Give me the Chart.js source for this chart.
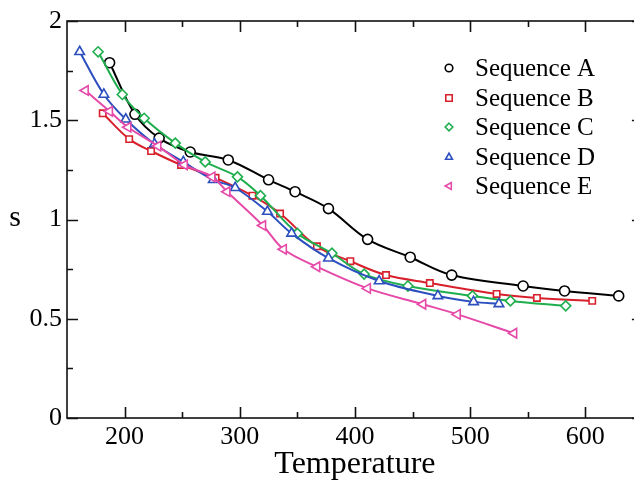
<!DOCTYPE html>
<html>
<head>
<meta charset="utf-8">
<script src="https://cdn.jsdelivr.net/npm/chart.js@4/dist/chart.umd.min.js"></script>
<style>
  html, body { margin: 0; padding: 0; background: #fff; overflow: hidden; }
  #wrap { width: 650px; height: 481px; }
</style>
</head>
<body>
<div id="wrap"><canvas id="c" width="650" height="481"></canvas></div>
<script>
// ---- data ----
const seriesNames = ['Sequence A', 'Sequence B', 'Sequence C', 'Sequence D', 'Sequence E'];

const tempA = [187, 209, 230, 257, 290, 325, 348, 377, 411, 448, 484, 546, 582, 629];
const sA    = [1.79, 1.53, 1.41, 1.34, 1.30, 1.20, 1.14, 1.055, 0.90, 0.81, 0.72, 0.665, 0.64, 0.615];

const tempB = [181, 204, 223, 249, 279, 311, 335, 367, 396, 427, 465, 523, 558, 606];
const sB    = [1.535, 1.405, 1.345, 1.275, 1.21, 1.12, 1.03, 0.865, 0.79, 0.72, 0.68, 0.625, 0.605, 0.59];

const tempC = [177, 198, 217, 244, 270, 298, 318, 350, 380, 408, 446, 502, 535, 583];
const sC    = [1.845, 1.63, 1.51, 1.385, 1.29, 1.215, 1.12, 0.93, 0.83, 0.725, 0.665, 0.615, 0.59, 0.565];

const tempD = [161, 182, 201, 226, 251, 277, 296, 324, 345, 377, 421, 472, 503, 525];
const sD    = [1.845, 1.63, 1.505, 1.38, 1.29, 1.20, 1.16, 1.04, 0.93, 0.805, 0.69, 0.615, 0.585, 0.575];

const tempE = [166, 187, 203, 229, 252, 276, 289, 320, 338, 367, 411, 459, 489, 538];
const sE    = [1.65, 1.545, 1.465, 1.37, 1.275, 1.215, 1.14, 0.97, 0.85, 0.762, 0.653, 0.573, 0.522, 0.427];

const xTickValues = [200, 300, 400, 500, 600];
const xMinorValues = [250, 350, 450, 550];
const yTickValues = [0, 0.5, 1, 1.5, 2];
const yMinorValues = [0.25, 0.75, 1.25, 1.75];

// ---- styling ----
const FONT = '"Liberation Serif", "Times New Roman", "DejaVu Serif", serif';
const colors = ['#000000', '#d8202c', '#1fae4e', '#2c4fbf', '#e64aa9'];
const styles = ['circle', 'rect', 'rectRot', 'triangle', 'triangle'];
const rotations = [0, 0, 0, 0, -90];
const radii = [5, 4.5, 5, 5.5, 5.5];

const temps = [tempA, tempB, tempC, tempD, tempE];
const svals = [sA, sB, sC, sD, sE];

const datasets = seriesNames.map((name, i) => ({
  label: name,
  data: temps[i].map((t, j) => ({ x: t, y: svals[i][j] })),
  showLine: true,
  borderColor: colors[i],
  borderWidth: 2,
  backgroundColor: '#ffffff',
  pointStyle: styles[i],
  pointRotation: rotations[i],
  pointRadius: radii[i],
  pointBorderWidth: 1.6,
  pointBorderColor: colors[i],
  pointBackgroundColor: '#ffffff',
  tension: 0.35,
  fill: false,
  order: 5 - i,
  clip: false
}));

function drawMarker(ctx, style, x, y, r, color) {
  ctx.save();
  ctx.strokeStyle = color;
  ctx.fillStyle = '#fff';
  ctx.lineWidth = 1.6;
  ctx.beginPath();
  if (style === 'circle') {
    ctx.arc(x, y, r, 0, Math.PI * 2);
  } else if (style === 'rect') {
    ctx.rect(x - r * 0.85, y - r * 0.85, r * 1.7, r * 1.7);
  } else if (style === 'rectRot') {
    ctx.moveTo(x, y - r); ctx.lineTo(x + r, y); ctx.lineTo(x, y + r); ctx.lineTo(x - r, y); ctx.closePath();
  } else if (style === 'triUp') {
    ctx.moveTo(x, y - r); ctx.lineTo(x + r * 0.9, y + r * 0.6); ctx.lineTo(x - r * 0.9, y + r * 0.6); ctx.closePath();
  } else if (style === 'triLeft') {
    ctx.moveTo(x - r, y); ctx.lineTo(x + r * 0.6, y - r * 0.9); ctx.lineTo(x + r * 0.6, y + r * 0.9); ctx.closePath();
  }
  ctx.fill();
  ctx.stroke();
  ctx.restore();
}

const framePlugin = {
  id: 'frame',
  afterDatasetsDraw(chart) {
    const { ctx, chartArea: a, scales } = chart;
    const xs = scales.x, ys = scales.y;
    ctx.save();
    ctx.strokeStyle = '#111';
    ctx.lineWidth = 1.6;
    ctx.strokeRect(a.left, a.top, a.right - a.left, a.bottom - a.top);
    ctx.beginPath();
    const major = 11, minor = 6;
    xTickValues.forEach(v => {
      const px = Math.round(xs.getPixelForValue(v)) + 0.5;
      ctx.moveTo(px, a.bottom); ctx.lineTo(px, a.bottom - major);
      ctx.moveTo(px, a.top); ctx.lineTo(px, a.top + major);
    });
    xMinorValues.forEach(v => {
      const px = Math.round(xs.getPixelForValue(v)) + 0.5;
      ctx.moveTo(px, a.bottom); ctx.lineTo(px, a.bottom - minor);
      ctx.moveTo(px, a.top); ctx.lineTo(px, a.top + minor);
    });
    yTickValues.forEach(v => {
      const py = Math.round(ys.getPixelForValue(v)) + 0.5;
      ctx.moveTo(a.left, py); ctx.lineTo(a.left + major, py);
      ctx.moveTo(a.right, py); ctx.lineTo(a.right - major, py);
    });
    yMinorValues.forEach(v => {
      const py = Math.round(ys.getPixelForValue(v)) + 0.5;
      ctx.moveTo(a.left, py); ctx.lineTo(a.left + minor, py);
      ctx.moveTo(a.right, py); ctx.lineTo(a.right - minor, py);
    });
    ctx.stroke();

    // upright y-axis label
    ctx.fillStyle = '#000';
    ctx.font = '30px ' + FONT;
    ctx.textAlign = 'center';
    ctx.textBaseline = 'middle';
    ctx.fillText('s', 15, 218);

    // legend
    const legendStyles = ['circle', 'rect', 'rectRot', 'triUp', 'triLeft'];
    const rowY = [68, 98, 127, 157, 186];
    ctx.font = '25px ' + FONT;
    ctx.textAlign = 'left';
    seriesNames.forEach((name, i) => {
      drawMarker(ctx, legendStyles[i], 449, rowY[i], 3.8, colors[i]);
      ctx.fillStyle = '#000';
      ctx.fillText(name, 475, rowY[i] + 1);
    });
    ctx.restore();
  }
};

new Chart(document.getElementById('c'), {
  type: 'scatter',
  data: { datasets },
  options: {
    responsive: false,
    animation: false,
    devicePixelRatio: 1,
    layout: { padding: { top: 21, right: 7, left: 0, bottom: 0 } },
    plugins: { legend: { display: false }, tooltip: { enabled: false } },
    scales: {
      x: {
        type: 'linear',
        min: 150, max: 650,
        grid: { display: false, drawTicks: false },
        border: { display: false },
        afterBuildTicks: s => { s.ticks = xTickValues.map(v => ({ value: v })); },
        afterFit: s => { s.height = 63; },
        ticks: {
          color: '#000', padding: 4,
          font: { family: FONT, size: 26 },
          callback: v => String(v)
        },
        title: {
          display: true, text: 'Temperature', color: '#000',
          font: { family: FONT, size: 32 },
          padding: { top: 0, bottom: -3 }
        }
      },
      y: {
        type: 'linear',
        min: 0, max: 2,
        grid: { display: false, drawTicks: false },
        border: { display: false },
        afterBuildTicks: s => { s.ticks = yTickValues.map(v => ({ value: v })); },
        afterFit: s => { s.width = 67; },
        ticks: {
          color: '#000', padding: 5,
          font: { family: FONT, size: 26 },
          callback: v => String(v)
        }
      }
    }
  },
  plugins: [framePlugin]
});
</script>
</body>
</html>
